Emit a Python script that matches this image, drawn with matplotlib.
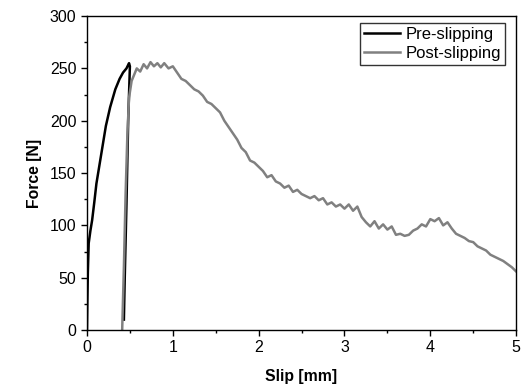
import matplotlib
matplotlib.use("Agg")
import matplotlib.pyplot as plt
from matplotlib.ticker import MultipleLocator

plt.rcParams['font.family'] = ['Liberation Sans', 'DejaVu Sans']

pre_slip = [0, 0.005, 0.01, 0.02, 0.04, 0.06, 0.085, 0.11, 0.14, 0.17, 0.22, 0.27,
            0.33, 0.38, 0.42, 0.46, 0.49, 0.50, 0.48, 0.46, 0.44, 0.43]
pre_force = [0, 30, 55, 83, 95, 105, 122, 140, 155, 170, 195, 213,
             230, 240, 246, 250, 255, 252, 200, 120, 50, 10]

post_slip = [0.41, 0.43, 0.45, 0.47, 0.49, 0.52, 0.55, 0.58, 0.62, 0.66,
             0.70, 0.74, 0.78, 0.82, 0.86, 0.90, 0.95, 1.00,
             1.05, 1.10, 1.15, 1.20, 1.25, 1.30, 1.35, 1.40, 1.45, 1.50,
             1.55, 1.60, 1.65, 1.70, 1.75, 1.80, 1.85, 1.90, 1.95, 2.00,
             2.05, 2.10, 2.15, 2.20, 2.25, 2.30, 2.35, 2.40, 2.45, 2.50,
             2.55, 2.60, 2.65, 2.70, 2.75, 2.80, 2.85, 2.90, 2.95, 3.00,
             3.05, 3.10, 3.15, 3.20, 3.25, 3.30, 3.35, 3.40, 3.45, 3.50,
             3.55, 3.60, 3.65, 3.70, 3.75, 3.80, 3.85, 3.90, 3.95, 4.00,
             4.05, 4.10, 4.15, 4.20, 4.25, 4.30, 4.35, 4.40, 4.45, 4.50,
             4.55, 4.60, 4.65, 4.70, 4.75, 4.80, 4.85, 4.90, 4.95, 5.00]
post_force = [0, 60, 130, 185, 222, 238, 244, 250, 247, 254,
              250, 256, 252, 255, 251, 255, 250, 252,
              246, 240, 238, 234, 230, 228, 224, 218, 216, 212,
              208, 200, 194, 188, 182, 174, 170, 162, 160, 156,
              152, 146, 148, 142, 140, 136, 138, 132, 134, 130,
              128, 126, 128, 124, 126, 120, 122, 118, 120, 116,
              120, 114, 118, 108, 103, 99, 104, 97, 101, 96,
              99, 91, 92, 90, 91, 95, 97, 101, 99, 106,
              104, 107, 100, 103, 97, 92, 90, 88, 85, 84,
              80, 78, 76, 72, 70, 68, 66, 63, 60, 56]

fig = plt.figure(figsize=(5.24, 3.92), dpi=100)
ax = fig.add_axes([0.166, 0.158, 0.819, 0.801])

ax.plot(pre_slip, pre_force, color='black', lw=1.8, label='Pre-slipping')
ax.plot(post_slip, post_force, color='#808080', lw=1.8, label='Post-slipping')

ax.set_xlim(0, 5)
ax.set_ylim(0, 300)
ax.xaxis.set_major_locator(MultipleLocator(1))
ax.xaxis.set_minor_locator(MultipleLocator(0.5))
ax.yaxis.set_major_locator(MultipleLocator(50))
ax.yaxis.set_minor_locator(MultipleLocator(25))
ax.tick_params(which='both', direction='out', top=False, right=False, labelsize=11.5, color='black')
ax.tick_params(which='major', length=4, width=1)
ax.tick_params(which='minor', length=2.5, width=1)
for s in ax.spines.values():
    s.set_linewidth(1)

ax.set_xlabel('Slip [mm]', fontsize=11.3, fontweight='bold', labelpad=10)
ax.set_ylabel('Force [N]', fontsize=11.3, fontweight='bold', labelpad=6)

leg = ax.legend(loc='upper right', bbox_to_anchor=(0.974, 0.978), fontsize=12,
                frameon=True, fancybox=False, edgecolor='black', borderpad=0.25,
                handlelength=2.15, handletextpad=0.3, labelspacing=0.22,
                borderaxespad=0)
leg.get_frame().set_linewidth(1)

fig.savefig('out.png', dpi=100)
